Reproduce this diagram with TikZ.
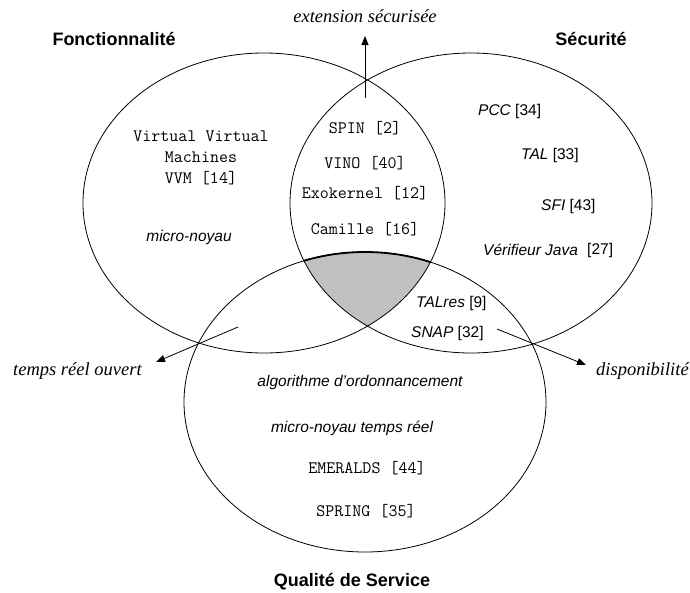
\documentclass[tikz,border=0pt]{standalone}
\usepackage{fontspec}
\setmainfont{Liberation Serif}
\setsansfont{Liberation Sans}
\usetikzlibrary{arrows.meta}
\definecolor{venngray}{RGB}{192,192,192}
\begin{document}
\begin{tikzpicture}[x=1pt,y=-1pt,
  setline/.style={line width=0.8pt},
  mono/.style={font=\fontsize{17.5}{19}\selectfont\ttfamily, inner sep=0pt},
  sansit/.style={font=\fontsize{15.5}{18}\selectfont\sffamily, inner sep=0pt},
  title/.style={font=\fontsize{18}{20}\selectfont\sffamily\bfseries, inner sep=0pt},
  prop/.style={font=\fontsize{18.5}{21}\selectfont\itshape, inner sep=0pt},
  arr/.style={line width=0.8pt, -{Triangle[length=9pt,width=7pt]}}]
\useasboundingbox (0,0) rectangle (690,592);
% shaded triple intersection
\begin{scope}
  \clip (264,203) ellipse [x radius=181pt, y radius=150pt];
  \clip (471,203) ellipse [x radius=181pt, y radius=150pt];
  \fill[venngray] (365,402) ellipse [x radius=181pt, y radius=150pt];
  \draw[line width=1.8pt] (365,402) ellipse [x radius=181pt, y radius=150pt];
\end{scope}
% sets
\draw[setline] (264,203) ellipse [x radius=181pt, y radius=150pt];
\draw[setline] (471,203) ellipse [x radius=181pt, y radius=150pt];
\draw[setline] (365,402) ellipse [x radius=181pt, y radius=150pt];
% titles
\node[title] (fonc) at (114,39) {Fonctionnalité};
\node[title] (secu) at (591,39) {Sécurité};
\node[title] (qual) at (352,582) {Qualité de Service};
% left set
\node[mono, align=center] (vvm) at (201,158) {Virtual Virtual\\[2pt]Machines\\[2pt]VVM [14]};
\node[sansit] (mn) at (189,237) {\itshape micro-noyau};
% middle
\node[mono] (spin) at (365,128) {SPIN [2]};
\node[mono] (vino) at (365,163) {VINO [40]};
\node[mono] (exo) at (365,193) {Exokernel [12]};
\node[mono] (cam) at (365,229) {Camille [16]};
% right set
\node[sansit, anchor=west] (pcc) at (478,111) {\itshape PCC\upshape\ [34]};
\node[sansit, anchor=west] (tal) at (521,155) {\itshape TAL\upshape\ [33]};
\node[sansit, anchor=west] (sfi) at (541,206) {\itshape SFI\upshape\ [43]};
\node[sansit, anchor=west] (verif) at (483,250) {\itshape Vérifieur Java};
\node[sansit, anchor=west] (r27) at (587,250) {[27]};
\node[sansit, anchor=west] (talres) at (416,303) {\itshape TALres\upshape\ [9]};
\node[sansit, anchor=west] (snap) at (411,333) {\itshape SNAP\upshape\ [32]};
% bottom set
\node[sansit] (algo) at (360,382) {\itshape algorithme d'ordonnancement};
\node[sansit] (mnt) at (352,428) {\itshape micro-noyau temps réel};
\node[mono] (emer) at (367,468) {EMERALDS [44]};
\node[mono] (spring) at (366,511) {SPRING [35]};
% properties
\node[prop] (ext) at (365,16) {extension sécurisée};
\node[prop, anchor=west] (tro) at (13,371) {temps réel ouvert};
\node[prop, anchor=west] (dispo) at (596,371) {disponibilité};
% arrows
\coordinate (a1) at (365,98);
\coordinate (b1) at (365,36);
\coordinate (a2) at (238,327);
\coordinate (b2) at (156,362);
\coordinate (a3) at (497,329);
\coordinate (b3) at (586,365);
\draw[arr] (a1) -- (b1);
\draw[arr] (a2) -- (b2);
\draw[arr] (a3) -- (b3);
\end{tikzpicture}
\end{document}
